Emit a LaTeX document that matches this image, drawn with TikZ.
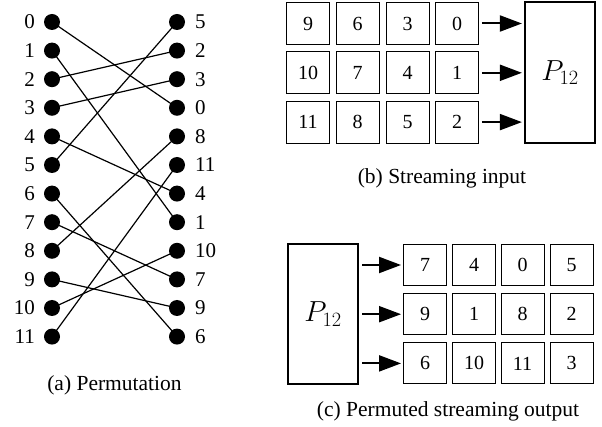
\RequirePackage{fix-cm}
\documentclass[tikz,border=0pt]{standalone}
\usepackage{fontspec}
\setmainfont{Liberation Serif}
\usetikzlibrary{arrows.meta}
\begin{document}
\begin{tikzpicture}[x=1pt,y=-1pt,
  dot/.style={circle,fill=black,inner sep=0pt,minimum size=16pt},
  lab/.style={font=\fontsize{21}{24}\selectfont,inner sep=0pt},
  cell/.style={draw,line width=0.9pt,minimum width=43pt,minimum height=42pt,inner sep=0pt,font=\fontsize{20}{24}\selectfont},
  pbox/.style={draw,line width=2.2pt,minimum width=70pt,minimum height=140pt,inner sep=0pt,font=\fontsize{29}{34}\selectfont},
  conn/.style={line width=1.2pt},
  arr/.style={line width=2pt,-{Triangle[length=22pt,width=16pt]},shorten <=3pt,shorten >=2pt},
  captext/.style={font=\fontsize{21.5}{26}\selectfont,inner sep=0pt}
]
\useasboundingbox (0,0) rectangle (602,427);
% (a) permutation
\foreach \i in {0,...,11} {
  \node[dot] (L\i) at (52,{22+28.6*\i}) {};
  \node[lab,anchor=east] (LL\i) at (35,{22+28.6*\i}) {\i};
}
\foreach \lbl [count=\r from 0] in {5,2,3,0,8,11,4,1,10,7,9,6} {
  \node[dot] (R\lbl) at (177,{22+28.6*\r}) {};
  \node[lab,anchor=west] (RL\lbl) at (195,{22+28.6*\r}) {\lbl};
}
\foreach \i in {0,...,11} {
  \draw[conn] (L\i.center) -- (R\i.center);
}
\node[captext] (capa) at (114.5,385) {(a) Permutation};
% (b) streaming input
\foreach \row/\a/\b/\c/\d in {0/9/6/3/0,1/10/7/4/1,2/11/8/5/2} {
  \node[cell] (b\row a) at (308,{23.5+49.3*\row}) {\a};
  \node[cell] (b\row b) at (357.5,{23.5+49.3*\row}) {\b};
  \node[cell] (b\row c) at (407.5,{23.5+49.3*\row}) {\c};
  \node[cell] (b\row d) at (457,{23.5+49.3*\row}) {\d};
}
\node[pbox,minimum height=141pt] (P1) at (560,72.5) {$P_{12}$};
\foreach \row in {0,1,2} {
  \draw[arr] (b\row d.east) -- (P1.west |- b\row d.east);
}
\node[captext] (capb) at (442,178) {(b) Streaming input};
% (c) permuted streaming output
\node[pbox] (P2) at (323,314) {$P_{12}$};
\foreach \row/\a/\b/\c/\d in {0/7/4/0/5,1/9/1/8/2,2/6/10/11/3} {
  \node[cell,minimum height=41pt] (c\row a) at (425,{265+49.2*\row}) {\a};
  \node[cell,minimum height=41pt] (c\row b) at (474,{265+49.2*\row}) {\b};
  \node[cell,minimum height=41pt] (c\row c) at (522.5,{265+49.2*\row}) {\c};
  \node[cell,minimum height=41pt] (c\row d) at (571.5,{265+49.2*\row}) {\d};
}
\foreach \row in {0,1,2} {
  \draw[arr] (P2.east |- c\row a.west) -- (c\row a.west);
}
\node[captext] (capc) at (448,411) {(c) Permuted streaming output};
\end{tikzpicture}
\end{document}
